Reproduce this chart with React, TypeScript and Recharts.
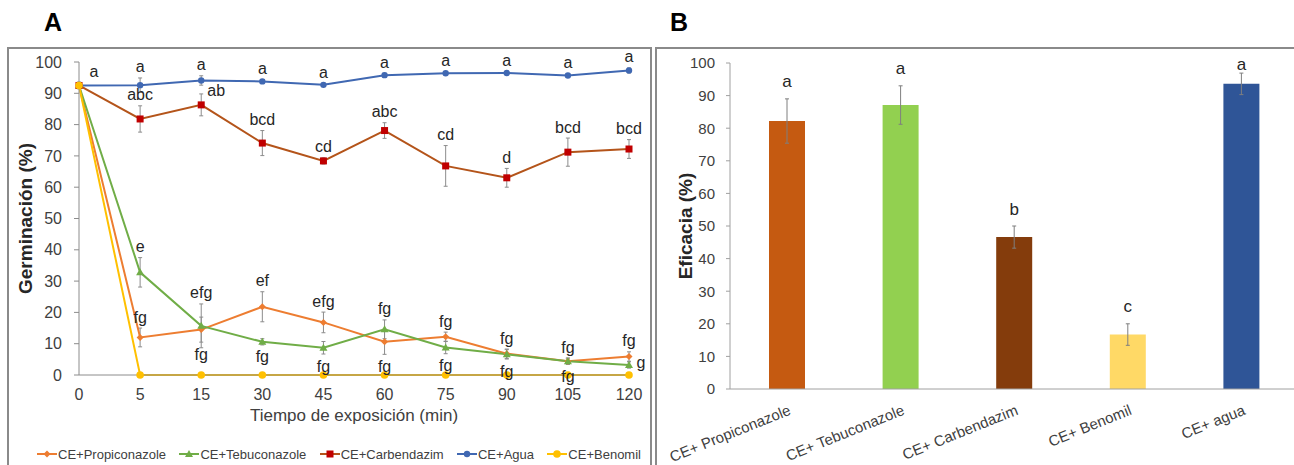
import React from "react";
import { LineChart, Line, XAxis, YAxis, ErrorBar, LabelList, Legend, BarChart, Bar, Cell } from "recharts";

const fuente = "'Liberation Sans', Arial, sans-serif";

// Panel A: germinación vs tiempo de exposición
const tiempos = ["0", "5", "15", "30", "45", "60", "75", "90", "105", "120"];

const propiconazole = [92.5, 12.0, 14.5, 21.8, 16.8, 10.6, 12.2, 6.8, 4.4, 5.9];
const propiconazoleErr = [1, 3, 4, 4.8, 3.3, 4, 1.5, 1.5, 1, 1.5];
const propiconazoleLetras = ["", "fg", "fg", "ef", "efg", "fg", "fg", "fg", "fg", "fg"];
const propiconazoleLugar = ["", "t", "b", "t", "t", "b", "t", "t", "t", "t"];

const tebuconazole = [92.5, 32.8, 15.7, 10.6, 8.7, 14.6, 8.8, 6.6, 4.4, 3.2];
const tebuconazoleErr = [1, 4.7, 7, 1, 2, 3, 2, 1.5, 1, 1];
const tebuconazoleLetras = ["", "e", "efg", "fg", "fg", "fg", "fg", "fg", "fg", "g"];
const tebuconazoleLugar = ["", "t", "t", "b", "b", "t", "b", "b", "b", "r"];

const carbendazim = [92.5, 81.8, 86.3, 74.1, 68.4, 78.1, 66.8, 63.0, 71.2, 72.2];
const carbendazimErr = [1, 4.2, 3.5, 4, 1, 2.5, 6.5, 3, 4.5, 3];
const carbendazimLetras = ["", "abc", "ab", "bcd", "cd", "abc", "cd", "d", "bcd", "bcd"];
const carbendazimLugar = ["", "t", "tr", "t", "t", "t", "t", "t", "t", "t"];

const agua = [92.5, 92.6, 94.1, 93.8, 92.7, 95.8, 96.4, 96.5, 95.7, 97.3];
const aguaErr = [1, 2.3, 1.5, 0.6, 0.5, 0.6, 0.5, 0.5, 0.6, 0.8];
const aguaLetras = ["a", "a", "a", "a", "a", "a", "a", "a", "a", "a"];
const aguaLugar = ["tr", "t", "t", "t", "t", "t", "t", "t", "t", "t"];

const benomil = [92.5, 0, 0, 0, 0, 0, 0, 0, 0, 0];

const datosA = tiempos.map((t, i) => ({
  t,
  propi: propiconazole[i], propiErr: propiconazoleErr[i], propiLetra: propiconazoleLetras[i],
  tebu: tebuconazole[i], tebuErr: tebuconazoleErr[i], tebuLetra: tebuconazoleLetras[i],
  carb: carbendazim[i], carbErr: carbendazimErr[i], carbLetra: carbendazimLetras[i],
  agua: agua[i], aguaErr: aguaErr[i], aguaLetra: aguaLetras[i],
  beno: benomil[i],
}));

// Panel B: eficacia
const tratamientos = ["CE+ Propiconazole", "CE+ Tebuconazole", "CE+ Carbendazim", "CE+ Benomil", "CE+ agua"];
const eficacia = [82.2, 87.1, 46.6, 16.7, 93.6];
const eficaciaErr = [6.8, 5.9, 3.4, 3.3, 3.3];
const eficaciaLetras = ["a", "a", "b", "c", "a"];
const coloresB = ["#C55A11", "#92D050", "#843C0C", "#FFD966", "#2F5597"];

const datosB = tratamientos.map((n, i) => ({ n, v: eficacia[i], err: eficaciaErr[i], letra: eficaciaLetras[i] }));

const series = [
  { key: "propi", nombre: "CE+Propiconazole", color: "#ED7D31", marca: "#ED7D31", forma: "rombo", err: propiconazoleErr, lugar: propiconazoleLugar },
  { key: "tebu", nombre: "CE+Tebuconazole", color: "#70AD47", marca: "#70AD47", forma: "triangulo", err: tebuconazoleErr, lugar: tebuconazoleLugar },
  { key: "carb", nombre: "CE+Carbendazim", color: "#B4541A", marca: "#C00000", forma: "cuadrado", err: carbendazimErr, lugar: carbendazimLugar },
  { key: "agua", nombre: "CE+Agua", color: "#4068B2", marca: "#4068B2", forma: "circulo", err: aguaErr, lugar: aguaLugar },
  { key: "beno", nombre: "CE+Benomil", color: "#FFC000", marca: "#FFC000", forma: "circuloG", err: null, lugar: null },
];

const PLOT_A_H = 313;
const pxA = PLOT_A_H / 100;

function marca(forma: string, cx: number, cy: number, color: string, key?: any) {
  if (forma === "rombo")
    return <path key={key} d={`M${cx},${cy - 3.5}L${cx + 3.5},${cy}L${cx},${cy + 3.5}L${cx - 3.5},${cy}Z`} fill={color} />;
  if (forma === "triangulo")
    return <path key={key} d={`M${cx},${cy - 4}L${cx + 4},${cy + 3}L${cx - 4},${cy + 3}Z`} fill={color} />;
  if (forma === "cuadrado")
    return <rect key={key} x={cx - 3.5} y={cy - 3.5} width={7} height={7} fill={color} />;
  if (forma === "circuloG") return <circle key={key} cx={cx} cy={cy} r={3.8} fill={color} />;
  return <circle key={key} cx={cx} cy={cy} r={3.2} fill={color} />;
}

function letra(errs: number[], lugar: string[]) {
  return (props: any) => {
    const { x, y, value, index } = props;
    if (!value) return null;
    const e = errs[index] * pxA;
    const p = lugar[index];
    let tx = x;
    let ty = y;
    if (p === "t") ty = y - e - 11;
    else if (p === "tr") { tx = x + 15; ty = y - 14; }
    else if (p === "b") ty = y + e + 12;
    else if (p === "r") { tx = x + 12; ty = y - 2; }
    return (
      <text key={`l-${index}`} x={tx} y={ty} textAnchor="middle" dominantBaseline="central" fontSize={16} fill="#262626" fontFamily={fuente}>
        {value}
      </text>
    );
  };
}

function LeyendaA() {
  return (
    <div style={{ display: "flex", justifyContent: "space-between", alignItems: "center", height: 22, fontSize: 13, lineHeight: "15px", color: "#404040", fontFamily: fuente }}>
      {series.map((s) => (
        <div key={s.key} style={{ display: "flex", alignItems: "center" }}>
          <svg width={22} height={12}>
            <line x1={1} y1={6} x2={21} y2={6} stroke={s.color} strokeWidth={2} />
            {marca(s.forma, 11, 6, s.marca)}
          </svg>
          <span>{s.nombre}</span>
        </div>
      ))}
    </div>
  );
}

function TickB(props: any) {
  const { x, y, payload } = props;
  const tx = x + 5;
  const ty = y + 25;
  return (
    <text x={tx} y={ty} transform={`rotate(-22, ${tx}, ${ty})`} textAnchor="end" fontSize={15} fill="#404040" fontFamily={fuente}>
      {payload.value}
    </text>
  );
}

export default function App() {
  const eje = "#8C8C8C";
  return (
    <div style={{ position: "fixed", left: 0, top: 0, width: 1294, height: 465, overflow: "hidden", background: "#fff", fontFamily: fuente }}>
      <div style={{ position: "absolute", left: 44, top: 8, fontSize: 25, lineHeight: "29px", fontWeight: "bold", color: "#000" }}>A</div>
      <div style={{ position: "absolute", left: 670, top: 8, fontSize: 25, lineHeight: "29px", fontWeight: "bold", color: "#000" }}>B</div>
      <div style={{ position: "absolute", left: 7, top: 47, width: 645, height: 440, border: "2px solid #8A8A8A", boxSizing: "border-box" }} />
      <div style={{ position: "absolute", left: 655, top: 47, width: 700, height: 440, border: "2px solid #8A8A8A", boxSizing: "border-box" }} />

      <div style={{ position: "absolute", left: 8, top: 48 }}>
        <LineChart width={643} height={417} data={datosA} margin={{ top: 14, right: 22, bottom: 0, left: 0 }}>
          <XAxis
            dataKey="t"
            height={68}
            tickLine={false}
            tickSize={6}
            tickMargin={8}
            axisLine={{ stroke: eje }}
            tick={{ fontSize: 16, fill: "#404040", fontFamily: fuente }}
            interval={0}
            label={{ value: "Tiempo de exposición (min)", position: "insideBottom", offset: 22, fontSize: 17, fill: "#404040", fontFamily: fuente }}
          />
          <YAxis
            width={71}
            domain={[0, 100]}
            ticks={[0, 10, 20, 30, 40, 50, 60, 70, 80, 90, 100]}
            tickSize={5}
            tickMargin={12}
            axisLine={{ stroke: eje }}
            tickLine={{ stroke: eje }}
            tick={{ fontSize: 16, fill: "#404040", fontFamily: fuente }}
            label={{
              content: (p: any) => {
                const vb = p.viewBox;
                const cx = 17;
                const cy = vb.y + vb.height / 2;
                return (
                  <text x={cx} y={cy} transform={`rotate(-90, ${cx}, ${cy})`} textAnchor="middle" dominantBaseline="central" fontSize={19} fontWeight="bold" fill="#262626" fontFamily={fuente}>
                    Germinación (%)
                  </text>
                );
              },
            }}
          />
          <Legend verticalAlign="bottom" height={22} wrapperStyle={{ left: 28, width: 605, bottom: 0 }} content={() => <LeyendaA />} />
          {series.map((s) => (
            <Line
              key={s.key}
              dataKey={s.key}
              name={s.nombre}
              stroke={s.color}
              strokeWidth={2}
              isAnimationActive={false}
              dot={(p: any) => marca(s.forma, p.cx, p.cy, s.marca, `d-${s.key}-${p.index}`)}
              activeDot={false}
            >
              {s.err && <ErrorBar dataKey={`${s.key}Err`} width={2} strokeWidth={1} stroke="#8C8C8C" direction="y" />}
              {s.err && s.lugar && <LabelList dataKey={`${s.key}Letra`} content={letra(s.err, s.lugar)} />}
            </Line>
          ))}
        </LineChart>
      </div>

      <div style={{ position: "absolute", left: 657, top: 49 }}>
        <BarChart width={643} height={416} data={datosB} margin={{ top: 14, right: 2, bottom: 0, left: 0 }}>
          <XAxis dataKey="n" height={76} tickLine={false} tickSize={0} tickMargin={0} axisLine={{ stroke: "#A0A0A0" }} tick={<TickB />} interval={0} />
          <YAxis
            width={73}
            domain={[0, 100]}
            ticks={[0, 10, 20, 30, 40, 50, 60, 70, 80, 90, 100]}
            tickSize={4}
            tickMargin={11}
            axisLine={{ stroke: "#A0A0A0" }}
            tickLine={{ stroke: "#A0A0A0" }}
            tick={{ fontSize: 15, fill: "#404040", fontFamily: fuente }}
            label={{
              content: (p: any) => {
                const vb = p.viewBox;
                const cx = 28;
                const cy = vb.y + vb.height / 2;
                return (
                  <text x={cx} y={cy} transform={`rotate(-90, ${cx}, ${cy})`} textAnchor="middle" dominantBaseline="central" fontSize={19} fontWeight="bold" fill="#262626" fontFamily={fuente}>
                    Eficacia (%)
                  </text>
                );
              },
            }}
          />
          <Bar dataKey="v" barSize={36} isAnimationActive={false}>
            {datosB.map((d, i) => (
              <Cell key={d.n} fill={coloresB[i]} />
            ))}
            <ErrorBar dataKey="err" width={2} strokeWidth={1} stroke="#7F7F7F" direction="y" />
            <LabelList
              dataKey="letra"
              content={(p: any) => {
                const { x, y, width, value, index } = p;
                const e = eficaciaErr[index] * 3.26;
                const ty = Math.max(y - e - 17, 15);
                return (
                  <text key={`b-${index}`} x={x + width / 2} y={ty} textAnchor="middle" dominantBaseline="central" fontSize={17} fill="#262626" fontFamily={fuente}>
                    {value}
                  </text>
                );
              }}
            />
          </Bar>
        </BarChart>
      </div>
    </div>
  );
}
